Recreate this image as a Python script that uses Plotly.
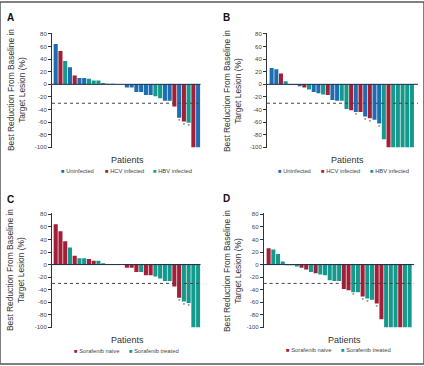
import plotly.graph_objects as go

# ---------------- data ----------------
patients_ac = list(range(1, 32))
values_ac = [64, 53, 37, 27, 14, 10, 10, 9, 6, 6, 2, 1, 1, 0.5, 0.3,
             -5, -5, -12, -12, -17, -17, -19, -22, -26, -26, -35, -53, -59, -61, -100, -100]
infection_a = ["U", "HCV", "HBV", "U", "HCV", "U", "U", "HBV", "HBV", "HBV", "HBV", "U", "U", "U", "U",
               "U", "U", "U", "U", "U", "U", "HBV", "HBV", "U", "U", "HCV", "U", "HCV", "HBV", "HCV", "U"]
sorafenib_c = ["N", "N", "N", "T", "N", "T", "T", "N", "N", "T", "T", "T", "T", "T", "T",
               "N", "N", "N", "T", "N", "N", "T", "T", "T", "T", "N", "N", "T", "T", "T", "T"]
stars_ac = [27, 28, 29, 30, 31]

patients_bd = list(range(1, 32))
values_bd = [26, 24, 17, 5, -1, -1, -3, -5, -8, -12, -14, -16, -17, -25, -26, -26, -39, -41,
             -44, -44, -51, -54, -56, -62, -87, -100, -100, -100, -100, -100, -100]
infection_b = ["U", "U", "HCV", "HBV", "U", "HCV", "U", "HCV", "HBV", "U", "U", "HBV", "HCV", "U", "U", "HBV",
               "HBV", "HCV", "U", "HCV", "U", "HCV", "U", "U", "HBV", "HCV", "HBV", "HBV", "HBV", "HBV", "HBV"]
sorafenib_d = ["N", "T", "T", "T", "T", "T", "T", "N", "N", "T", "N", "T", "T", "T", "T", "T",
               "N", "N", "T", "T", "N", "T", "T", "N", "N", "T", "T", "T", "N", "T", "T"]
stars_bd = [19, 21, 22, 24, 26, 27, 28, 29, 30, 31]

infection_keys = ["U", "HCV", "HBV"]
infection_names = ["Uninfected", "HCV infected", "HBV infected"]
sorafenib_keys = ["N", "T"]
sorafenib_names = ["Sorafenib naive", "Sorafenib treated"]

ytick_vals = [80, 60, 40, 20, 0, -20, -40, -60, -80, -100]
ytick_text = ["80", "60", "40", "20", "0", "-20", "-40", "-60", "-80", "-100"]
threshold = -30

# ---------------- styles ----------------
BLUE = "#1d6db3"
RED = "#a31f37"
TEAL = "#16998d"
inf_colors = {"U": BLUE, "HCV": RED, "HBV": TEAL}
sor_colors = {"N": RED, "T": TEAL}
FONT = "Liberation Sans"
W, H = 424, 366
BAR_W = 0.86

panels = [
    ("A", values_ac, infection_a, infection_keys, infection_names, inf_colors, stars_ac,
     [52 / W, 200.5 / W], [-0.78, 30.5], [1 - 147.6 / H, 1 - 31 / H]),
    ("B", values_bd, infection_b, infection_keys, infection_names, inf_colors, stars_bd,
     [267 / W, 418 / W], [-0.99, 31.3], [1 - 147.6 / H, 1 - 31 / H]),
    ("C", values_ac, sorafenib_c, sorafenib_keys, sorafenib_names, sor_colors, stars_ac,
     [52 / W, 200.5 / W], [-0.78, 30.5], [1 - 329.6 / H, 1 - 213.4 / H]),
    ("D", values_bd, sorafenib_d, sorafenib_keys, sorafenib_names, sor_colors, stars_bd,
     [263.7 / W, 414 / W], [-1.05, 30.93], [1 - 329.6 / H, 1 - 213.4 / H]),
]

letter_pos = [(10, 16), (227, 16), (10, 200), (227, 199)]
ytitle_pos = [(16, 89), (232, 90), (15, 271), (232, 272)]
patients_pos = [(127, 160), (347, 160), (127, 342), (344, 342)]
legend_pos = [
    [(59, 171), (103, 171), (151, 171)],
    [(276, 171), (319, 171), (368, 171)],
    [(72, 353), (127, 353)],
    [(284, 352), (339, 352)],
]

fig = go.Figure()
annotations = []
shapes = []

for i, (letter, vals, groups, keys, names, colors, stars, xd, xr, yd) in enumerate(panels):
    sfx = "" if i == 0 else str(i + 1)
    xa, ya = "x" + sfx, "y" + sfx
    idx = list(range(len(vals)))
    for k in keys:
        xs = [j for j in idx if groups[j] == k]
        ys = [vals[j] for j in xs]
        fig.add_trace(go.Bar(x=xs, y=ys, width=[BAR_W] * len(xs),
                             marker=dict(color=colors[k], line=dict(width=0)),
                             xaxis=xa, yaxis=ya, showlegend=False, hoverinfo="skip"))
    sx = [s - 1 for s in stars]
    sy = [vals[s - 1] - 6 for s in stars]
    fig.add_trace(go.Scatter(x=sx, y=sy, mode="text", text=["*"] * len(sx),
                             textfont=dict(size=6, color="#555", family=FONT),
                             cliponaxis=False, xaxis=xa, yaxis=ya, showlegend=False, hoverinfo="skip"))
    fig.update_layout(**{
        "xaxis" + sfx: dict(domain=xd, range=xr, visible=False, anchor=ya),
        "yaxis" + sfx: dict(domain=yd, range=[-101, 82], anchor=xa, tickvals=ytick_vals, ticktext=ytick_text,
                            ticks="outside", ticklen=3, tickwidth=1, tickcolor="#333",
                            showline=True, linecolor="#333", linewidth=1, showgrid=False, zeroline=False,
                            tickfont=dict(size=6, color="#444", family=FONT)),
    })
    shapes.append(dict(type="line", xref=xa + " domain", yref=ya, x0=0, x1=1, y0=0, y1=0,
                       line=dict(color="#1b2a44", width=1), layer="above"))
    shapes.append(dict(type="line", xref=xa + " domain", yref=ya, x0=0, x1=1, y0=threshold, y1=threshold,
                       line=dict(color="#444", width=1, dash="dot"), layer="above"))
    lx, ly = letter_pos[i]
    annotations.append(dict(text="<b>%s</b>" % letter, x=lx / W, y=1 - ly / H, xref="paper", yref="paper",
                            showarrow=False, font=dict(size=10, color="#111", family=FONT),
                            xanchor="center", yanchor="middle"))
    tx, ty = ytitle_pos[i]
    annotations.append(dict(text="Best Reduction From Baseline in<br>Target Lesion (%)", x=tx / W, y=1 - ty / H,
                            xref="paper", yref="paper", showarrow=False, textangle=-90,
                            font=dict(size=8.4, color="#333", family=FONT), xanchor="center", yanchor="middle"))
    px_, py_ = patients_pos[i]
    annotations.append(dict(text="Patients", x=px_ / W, y=1 - py_ / H, xref="paper", yref="paper",
                            showarrow=False, font=dict(size=9, color="#333", family=FONT),
                            xanchor="center", yanchor="middle"))
    for (gx, gy), k, nm in zip(legend_pos[i], keys, names):
        annotations.append(dict(text="<span style='color:%s'>■</span> %s" % (colors[k], nm),
                                x=gx / W, y=1 - gy / H, xref="paper", yref="paper", showarrow=False,
                                font=dict(size=5.8, color="#444", family=FONT),
                                xanchor="left", yanchor="middle"))

shapes.append(dict(type="rect", xref="paper", yref="paper", x0=0, x1=1, y0=0, y1=1,
                   line=dict(color="#555", width=1.5)))

fig.update_layout(width=W, height=H, margin=dict(l=0, r=0, t=0, b=0),
                  paper_bgcolor="white", plot_bgcolor="white",
                  barmode="overlay",
                  annotations=annotations, shapes=shapes,
                  font=dict(family=FONT))
fig.write_html("out.html", config={"displayModeBar": False, "staticPlot": True},
               post_script="document.body.style.margin='0';document.body.style.padding='0';"
                           "document.body.style.overflow='hidden';")
